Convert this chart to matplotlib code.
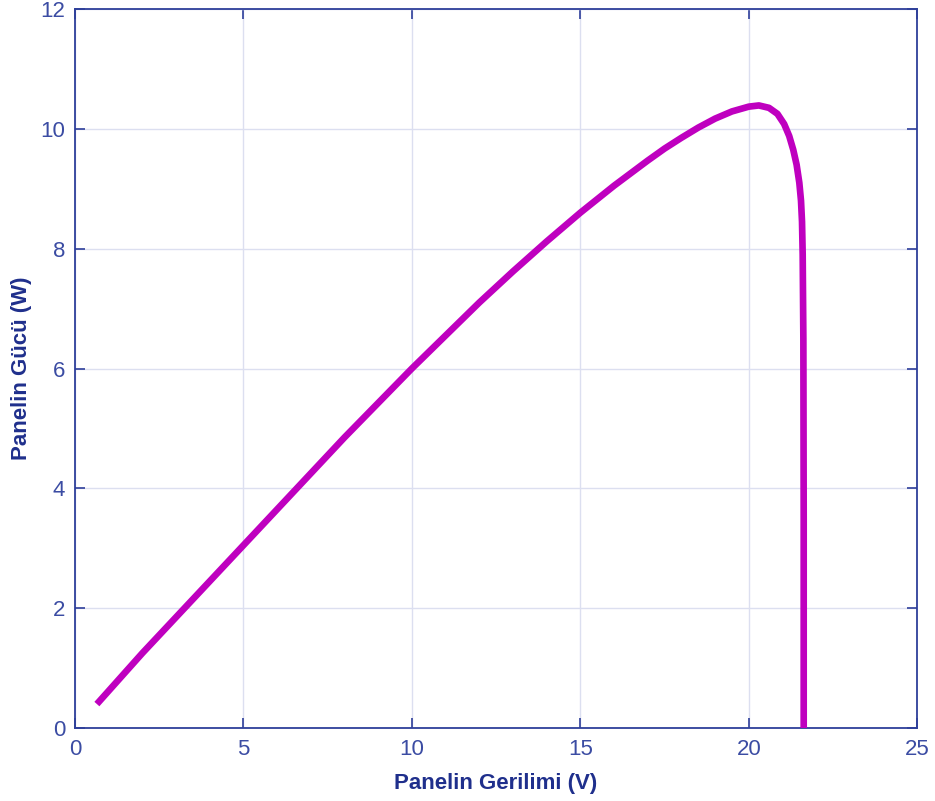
import matplotlib.pyplot as plt
import matplotlib

matplotlib.rcParams['font.family'] = ['Liberation Sans', 'DejaVu Sans']

# panel gerilimi (V) ve gucu (W)
voltage = [0.65, 2, 4, 6, 8, 10, 12, 13, 14, 15, 16, 17, 17.5, 18, 18.5, 19, 19.5,
           20, 20.3, 20.6, 20.85, 21.05, 21.2, 21.32, 21.42, 21.5, 21.55, 21.58,
           21.6, 21.62, 21.63, 21.63]
power = [0.4, 1.25, 2.45, 3.65, 4.85, 6.0, 7.1, 7.62, 8.12, 8.6, 9.05, 9.47, 9.67,
         9.85, 10.02, 10.17, 10.29, 10.37, 10.39, 10.35, 10.25, 10.08, 9.88, 9.65,
         9.4, 9.1, 8.8, 8.45, 7.9, 6.5, 3.5, 0]

xticks = [0, 5, 10, 15, 20, 25]
yticks = [0, 2, 4, 6, 8, 10, 12]

axis_col = '#2e3f9a'
tick_col = '#3b4ca3'

fig = plt.figure(figsize=(9.35, 8.01), dpi=100)
ax = fig.add_axes([0.0802, 0.0911, 0.9008, 0.8977])
ax.plot(voltage, power, color='#bf00bf', linewidth=4.8, solid_capstyle='butt',
        solid_joinstyle='round', zorder=3)

ax.set_xlim(0, 25)
ax.set_ylim(0, 12)
ax.set_xticks(xticks)
ax.set_yticks(yticks)
ax.grid(True, color='#dcdff0', linewidth=1)
ax.set_axisbelow(True)
for s in ax.spines.values():
    s.set_color(axis_col)
    s.set_linewidth(1.3)
ax.tick_params(direction='in', top=True, right=True, length=7, width=1.2,
               colors=axis_col, labelcolor=tick_col, labelsize=16)
ax.tick_params(axis='x', pad=8)
ax.tick_params(axis='y', pad=7)

ax.set_xlabel('Panelin Gerilimi (V)', fontsize=16, fontweight='bold',
              color='#1f2f8c', labelpad=9)
ax.set_ylabel('Panelin Gücü (W)', fontsize=16, fontweight='bold',
              color='#1f2f8c')
ax.yaxis.set_label_coords(-0.051, 0.5)

fig.savefig('out.png', dpi=100)
